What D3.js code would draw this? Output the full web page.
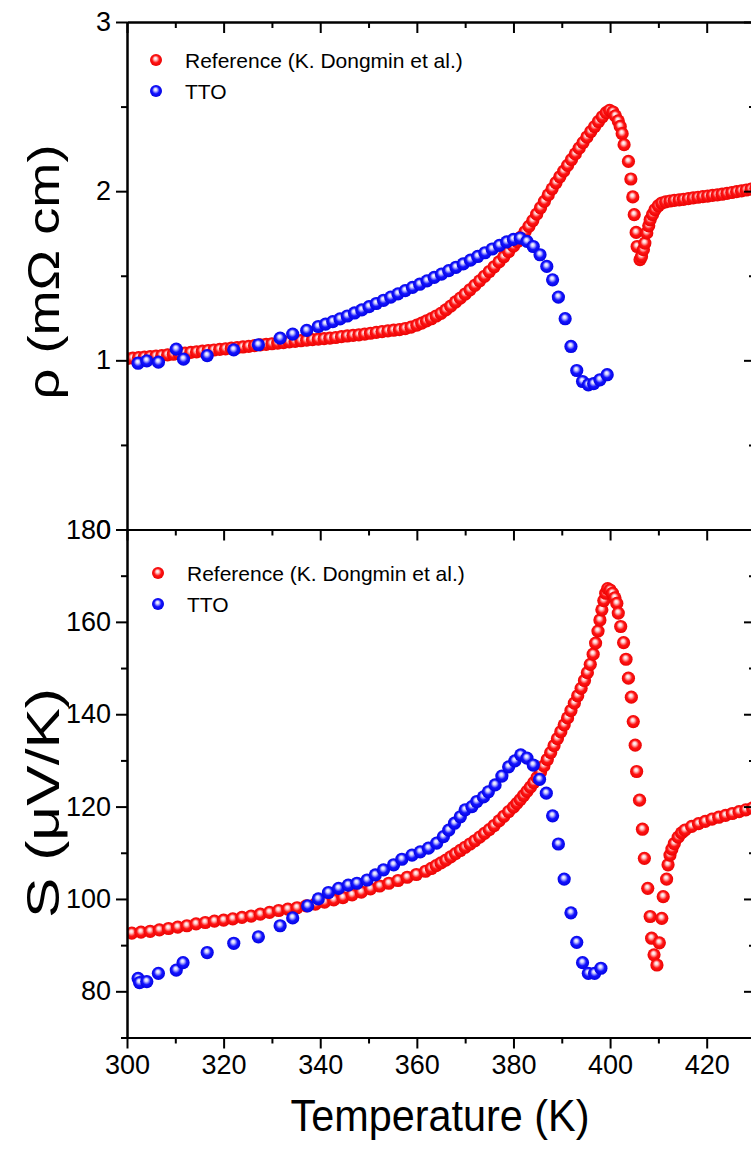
<!DOCTYPE html>
<html>
<head>
<meta charset="utf-8">
<script src="https://cdn.jsdelivr.net/npm/d3@7"></script>
<style>
  html, body { margin: 0; padding: 0; background: #fff; }
  svg { display: block; }
  text { font-family: "Liberation Sans", Arial, sans-serif; fill: #000; }
</style>
</head>
<body>
<svg id="chart" width="751" height="1149"></svg>
<script>
// ---- Resistivity, reference sample (K. Dongmin et al.) ----
const rhoRefT = [300.0,301.2,302.4,303.6,304.8,306.0,307.2,308.4,309.6,310.8,312.0,313.2,314.4,315.6,316.8,318.0,319.2,320.4,321.6,322.8,324.0,325.2,326.4,327.6,328.8,330.0,331.2,332.4,333.6,334.8,336.0,337.2,338.4,339.6,340.8,342.0,343.2,344.4,345.6,346.8,348.0,349.2,350.4,351.6,352.8,354.0,355.2,356.4,357.6,358.8,360.0,361.0,362.0,363.0,364.0,365.0,366.0,367.0,368.0,369.0,370.0,371.0,372.0,373.0,374.0,375.0,376.0,377.0,378.0,379.0,380.0,380.8,381.6,382.4,383.2,384.0,384.8,385.6,386.4,387.2,388.0,388.8,389.6,390.4,391.2,392.0,392.8,393.6,394.4,395.2,396.0,396.8,397.6,398.4,399.2,399.9,400.6,401.1,401.7,402.1,402.5,402.9,403.8,404.3,404.7,405.0,405.4,405.6,406.2,406.5,406.9,407.2,407.6,408.0,408.3,408.8,409.3,410.0,410.7,411.5,412.4,413.3,414.3,415.2,416.2,417.2,418.2,419.2,420.2,421.2,422.2,423.2,424.2,425.2,426.2,427.2,428.2,429.2,430.2];
const rhoRef = [1.010,1.013,1.016,1.019,1.022,1.025,1.028,1.032,1.036,1.040,1.043,1.047,1.050,1.054,1.058,1.061,1.065,1.068,1.072,1.075,1.079,1.083,1.087,1.091,1.094,1.098,1.102,1.105,1.109,1.112,1.116,1.119,1.122,1.125,1.128,1.131,1.135,1.140,1.144,1.148,1.151,1.155,1.160,1.165,1.170,1.174,1.178,1.182,1.188,1.196,1.208,1.220,1.233,1.246,1.262,1.278,1.298,1.320,1.345,1.368,1.392,1.417,1.443,1.470,1.497,1.525,1.553,1.582,1.612,1.643,1.675,1.702,1.730,1.760,1.792,1.826,1.864,1.902,1.940,1.978,2.014,2.050,2.085,2.118,2.152,2.186,2.220,2.254,2.287,2.320,2.352,2.382,2.412,2.440,2.464,2.478,2.468,2.445,2.415,2.383,2.340,2.275,2.176,2.072,1.966,1.861,1.756,1.673,1.595,1.614,1.654,1.693,1.753,1.795,1.831,1.862,1.891,1.914,1.930,1.937,1.942,1.946,1.949,1.952,1.956,1.960,1.964,1.968,1.971,1.975,1.978,1.982,1.987,1.992,1.997,2.002,2.007,2.012,2.017];

// ---- Resistivity, TTO ----
const rhoTtoT = [302.3,304.1,306.5,310.2,311.7,316.6,322.1,327.2,331.7,334.3,337.2,339.6,341.1,342.6,344.1,345.6,347.1,348.6,350.1,351.6,353.1,354.6,356.1,357.6,359.1,360.6,362.1,363.6,365.1,366.6,368.1,369.6,371.1,372.6,374.1,375.6,377.1,378.6,380.0,381.4,382.8,384.1,385.5,386.9,388.1,389.3,390.7,391.9,393.1,394.3,395.5,396.6,397.9,399.4];
const rhoTto = [0.983,0.997,0.989,1.066,1.007,1.028,1.062,1.092,1.131,1.155,1.177,1.200,1.214,1.229,1.245,1.262,1.280,1.298,1.317,1.336,1.355,1.374,1.393,1.412,1.431,1.450,1.470,1.490,1.510,1.530,1.550,1.570,1.592,1.614,1.636,1.658,1.680,1.700,1.715,1.723,1.703,1.673,1.624,1.555,1.476,1.374,1.246,1.082,0.940,0.875,0.855,0.862,0.885,0.915];

// ---- Seebeck coefficient, reference sample ----
const sRefT = [301.0,302.9,304.8,306.7,308.6,310.5,312.4,314.3,316.2,318.1,320.0,321.9,323.8,325.7,327.6,329.5,331.4,333.3,335.2,337.1,339.0,340.9,342.8,344.7,346.6,348.5,350.4,352.3,354.2,356.1,358.0,359.9,361.8,363.0,364.0,365.0,366.0,367.0,368.0,369.0,370.0,371.0,372.0,373.0,374.0,375.0,376.0,377.0,378.0,379.0,380.0,380.7,381.4,382.1,382.8,383.5,384.2,384.9,385.6,386.3,387.0,387.7,388.4,389.1,389.8,390.5,391.2,391.9,392.6,393.3,394.0,394.7,395.3,395.9,396.5,397.0,397.5,397.9,398.3,398.7,399.1,399.5,400.0,400.5,401.0,401.4,401.7,402.2,402.8,403.3,403.8,404.4,404.8,405.2,405.5,406.1,406.7,407.1,407.8,408.3,408.6,409.1,409.7,410.2,410.7,411.0,411.7,412.0,412.4,412.8,413.3,414.1,414.8,415.5,416.9,418.3,419.7,421.1,422.5,423.9,425.3,426.7,428.1,429.5];
const sRef = [92.6,92.8,93.0,93.3,93.6,93.9,94.2,94.6,94.9,95.2,95.4,95.7,96.0,96.3,96.7,97.1,97.5,97.8,98.1,98.5,98.9,99.3,99.8,100.3,100.9,101.5,102.2,102.8,103.4,104.0,104.7,105.3,106.0,106.6,107.2,107.8,108.4,109.1,109.8,110.5,111.2,111.9,112.6,113.4,114.2,115.0,115.9,116.9,117.9,118.9,119.9,120.7,121.5,122.4,123.3,124.2,125.2,126.3,127.5,128.8,130.2,131.7,133.2,134.7,136.2,137.7,139.2,140.8,142.4,144.0,145.6,147.3,149.0,150.8,153.0,155.4,158.0,160.4,162.6,164.6,166.2,167.2,166.9,166.2,165.2,164.0,161.9,159.0,155.5,151.9,147.8,143.7,138.4,133.3,127.6,121.4,115.1,108.8,102.3,96.2,91.5,87.9,85.7,90.5,95.8,100.5,104.3,107.4,109.5,110.8,112.0,113.4,114.3,114.9,115.7,116.3,116.8,117.3,117.7,118.1,118.5,118.9,119.3,119.7];

// ---- Seebeck coefficient, TTO ----
const sTtoT = [302.3,302.6,304.1,306.5,310.2,311.6,316.6,322.1,327.2,331.7,334.3,337.4,339.6,341.7,343.8,345.8,347.6,349.7,351.4,353.1,355.2,356.9,359.0,360.7,362.4,364.1,365.5,366.6,367.8,369.0,370.0,371.4,372.4,373.8,374.8,376.2,377.6,379.0,380.3,381.5,382.8,384.1,385.4,386.8,388.1,389.3,390.5,391.9,393.1,394.3,395.5,396.8,398.1];
const sTto = [82.8,81.9,82.1,83.9,84.6,86.2,88.4,90.4,91.8,94.2,95.9,98.5,100.0,101.4,102.3,103.0,103.4,104.1,105.2,106.3,107.4,108.6,109.5,110.2,111.0,112.1,113.5,114.9,116.4,117.8,119.3,120.0,121.1,122.1,123.2,124.7,126.6,128.6,129.9,131.2,130.5,129.0,125.9,122.9,118.0,111.9,104.3,97.0,90.6,86.2,83.9,83.9,85.0];

// ---- Axis ticks ----
const tempTicks = [300, 320, 340, 360, 380, 400, 420];
const tempMinor = [310, 330, 350, 370, 390, 410, 430];
const rhoTicks = [0, 1, 2, 3];
const rhoMinor = [0.5, 1.5, 2.5];
const sTicks = [80, 100, 120, 140, 160, 180];
const sMinor = [70, 90, 110, 130, 150, 170];

const legendNames = ["Reference (K. Dongmin et al.)", "TTO"];

const svg = d3.select("#chart");
const left = 127, right = 755;
const topA = 22, botA = 529.5;     // resistivity panel
const topB = 529.5, botB = 1037.5; // Seebeck panel

const x = d3.scaleLinear().domain([300, 430]).range([left, right]);
const yRho = d3.scaleLinear().domain([0, 3]).range([botA, topA]);
const yS = d3.scaleLinear().domain([70, 180]).range([botB, topB]);

// glossy sphere fills
const defs = svg.append("defs");
const shades = [
  {id: "ballRed", hi: "#ffd0d0", mid: "#ff1414", edge: "#e60000"},
  {id: "ballBlue", hi: "#d0d0ff", mid: "#1414ff", edge: "#0000dc"}
];
shades.forEach(s => {
  const g = defs.append("radialGradient").attr("id", s.id)
    .attr("cx", "50%").attr("cy", "50%").attr("r", "55%")
    .attr("fx", "45%").attr("fy", "35%");
  g.append("stop").attr("offset", "0%").attr("stop-color", "#ffffff");
  g.append("stop").attr("offset", "22%").attr("stop-color", s.hi);
  g.append("stop").attr("offset", "55%").attr("stop-color", s.mid);
  g.append("stop").attr("offset", "100%").attr("stop-color", s.edge);
});
defs.append("clipPath").attr("id", "clipA").append("rect")
  .attr("x", left).attr("y", topA - 8).attr("width", right - left).attr("height", botA - topA + 8);
defs.append("clipPath").attr("id", "clipB").append("rect")
  .attr("x", left).attr("y", topB).attr("width", right - left).attr("height", botB - topB);

const fillFor = i => i === 0 ? "url(#ballRed)" : "url(#ballBlue)";

function drawSeries(clip, ts, vs, yScale, idx) {
  const pts = ts.map((t, i) => [t, vs[i]]);
  svg.append("g").attr("clip-path", `url(#${clip})`)
    .selectAll("circle").data(pts).join("circle")
    .attr("cx", d => x(d[0])).attr("cy", d => yScale(d[1]))
    .attr("r", 6.6).attr("fill", fillFor(idx));
}

drawSeries("clipA", rhoRefT, rhoRef, yRho, 0);
drawSeries("clipA", rhoTtoT, rhoTto, yRho, 1);
drawSeries("clipB", sRefT, sRef, yS, 0);
drawSeries("clipB", sTtoT, sTto, yS, 1);

// axes
const tickFont = "27px";
function styleAxis(g) {
  g.select(".domain").attr("stroke", "#000").attr("stroke-width", 2);
  g.selectAll(".tick line").attr("stroke", "#000").attr("stroke-width", 2);
  g.selectAll(".tick text").style("font-size", tickFont)
    .style("font-family", '"Liberation Sans", Arial, sans-serif').attr("fill", "#000");
}
function addAxis(axis, tx, ty) {
  const g = svg.append("g").attr("transform", `translate(${tx},${ty})`).call(axis);
  styleAxis(g);
  return g;
}
const none = () => "";
const MAJ = 11, MIN = 6;

// panel A (resistivity)
addAxis(d3.axisLeft(yRho).tickValues(rhoTicks).tickSize(MAJ).tickSizeOuter(0).tickPadding(5).tickFormat(d3.format("d")), left, 0);
addAxis(d3.axisLeft(yRho).tickValues(rhoMinor).tickSize(MIN).tickSizeOuter(0).tickFormat(none), left, 0);
addAxis(d3.axisRight(yRho).tickValues(rhoTicks).tickSize(-MAJ).tickSizeOuter(0).tickFormat(none), right, 0);
addAxis(d3.axisRight(yRho).tickValues(rhoMinor).tickSize(-MIN).tickSizeOuter(0).tickFormat(none), right, 0);
addAxis(d3.axisTop(x).tickValues(tempTicks).tickSize(-MAJ).tickSizeOuter(0).tickFormat(none), 0, topA);
addAxis(d3.axisTop(x).tickValues(tempMinor).tickSize(-MIN).tickSizeOuter(0).tickFormat(none), 0, topA);
addAxis(d3.axisBottom(x).tickValues(tempTicks).tickSize(MAJ).tickSizeOuter(0).tickFormat(none), 0, botA);
addAxis(d3.axisBottom(x).tickValues(tempMinor).tickSize(MIN).tickSizeOuter(0).tickFormat(none), 0, botA);

// panel B (Seebeck)
addAxis(d3.axisLeft(yS).tickValues(sTicks).tickSize(MAJ).tickSizeOuter(0).tickPadding(5).tickFormat(d3.format("d")), left, 0);
addAxis(d3.axisLeft(yS).tickValues(sMinor).tickSize(MIN).tickSizeOuter(0).tickFormat(none), left, 0);
addAxis(d3.axisRight(yS).tickValues(sTicks).tickSize(-MAJ).tickSizeOuter(0).tickFormat(none), right, 0);
addAxis(d3.axisRight(yS).tickValues(sMinor).tickSize(-MIN).tickSizeOuter(0).tickFormat(none), right, 0);
addAxis(d3.axisBottom(x).tickValues(tempTicks).tickSize(MAJ).tickSizeOuter(0).tickPadding(6).tickFormat(d3.format("d")), 0, botB);
addAxis(d3.axisBottom(x).tickValues(tempMinor).tickSize(MIN).tickSizeOuter(0).tickFormat(none), 0, botB);

// axis titles
svg.append("text").attr("x", 440).attr("y", 1131)
  .attr("text-anchor", "middle").style("font-size", "44px")
  .attr("textLength", 299).attr("lengthAdjust", "spacingAndGlyphs")
  .text("Temperature (K)");
svg.append("text").attr("transform", "translate(59,272) rotate(-90)")
  .attr("text-anchor", "middle").style("font-size", "44px")
  .attr("textLength", 255).attr("lengthAdjust", "spacingAndGlyphs")
  .text("ρ (mΩ cm)");
svg.append("text").attr("transform", "translate(59,803) rotate(-90)")
  .attr("text-anchor", "middle").style("font-size", "47px")
  .attr("textLength", 230).attr("lengthAdjust", "spacingAndGlyphs")
  .text("S (μV/K)");

// legends
function legend(x0, y0, tx) {
  legendNames.forEach((name, i) => {
    const cy = y0 + i * 31;
    svg.append("circle").attr("cx", x0).attr("cy", cy).attr("r", 6).attr("fill", fillFor(i));
    svg.append("text").attr("x", tx).attr("y", cy + 8)
      .style("font-size", "21px").text(name);
  });
}
legend(156, 60, 185);
legend(158, 573, 187);
</script>
</body>
</html>
